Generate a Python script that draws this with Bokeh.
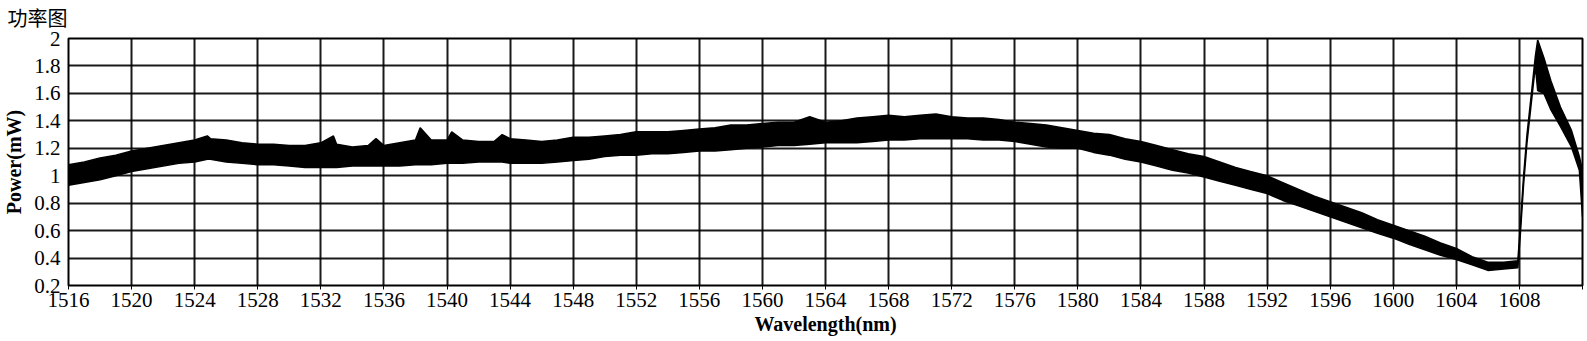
from bokeh.plotting import figure
from bokeh.models import Range1d, FixedTicker
from bokeh.embed import file_html
from bokeh.resources import INLINE

# Wavelength (nm) and the upper / lower envelope of the noisy power trace (mW)
wavelength = [1516, 1517, 1518, 1519, 1520, 1521, 1522, 1523, 1524, 1524.8, 1525, 1526, 1527, 1528,
              1529, 1530, 1531, 1532, 1532.8, 1533, 1534, 1535, 1535.5, 1536, 1537, 1538, 1538.3,
              1539, 1540, 1540.3, 1541, 1542, 1543, 1543.5, 1544, 1545, 1546, 1547, 1548, 1549,
              1550, 1551, 1552, 1553, 1554, 1555, 1556, 1557, 1558, 1559, 1560, 1561, 1562, 1563,
              1564, 1565, 1566, 1567, 1568, 1569, 1570, 1571, 1572, 1573, 1574, 1575, 1576, 1577,
              1578, 1579, 1580, 1581, 1582, 1583, 1584, 1585, 1586, 1587, 1588, 1589, 1590, 1591,
              1592, 1593, 1594, 1595, 1596, 1597, 1598, 1599, 1600, 1601, 1602, 1603, 1604, 1605,
              1606, 1607, 1607.9, 1608.05, 1608.26, 1608.48, 1608.8, 1609.01, 1609.16, 1609.55,
              1610.0, 1610.6, 1611.3, 1611.8, 1612.0]
power_upper = [1.08, 1.10, 1.13, 1.15, 1.18, 1.20, 1.22, 1.24, 1.26, 1.29, 1.27, 1.26, 1.24, 1.23,
               1.23, 1.22, 1.22, 1.24, 1.29, 1.23, 1.21, 1.22, 1.27, 1.22, 1.24, 1.26, 1.35,
               1.26, 1.26, 1.32, 1.26, 1.25, 1.25, 1.30, 1.27, 1.26, 1.25, 1.26, 1.28, 1.28,
               1.29, 1.30, 1.32, 1.32, 1.32, 1.33, 1.34, 1.35, 1.37, 1.37, 1.38, 1.39, 1.39, 1.43,
               1.39, 1.40, 1.42, 1.43, 1.44, 1.43, 1.44, 1.45, 1.43, 1.42, 1.42, 1.41, 1.39, 1.38,
               1.37, 1.35, 1.33, 1.31, 1.30, 1.27, 1.25, 1.22, 1.19, 1.16, 1.14, 1.10, 1.06, 1.03,
               1.00, 0.95, 0.90, 0.85, 0.81, 0.77, 0.73, 0.68, 0.64, 0.60, 0.56, 0.51, 0.47, 0.41,
               0.37, 0.37, 0.38, 0.62, 0.99, 1.30, 1.64, 1.87, 1.99, 1.86,
               1.69, 1.50, 1.33, 1.14, 1.04]
power_lower = [0.93, 0.95, 0.97, 1.00, 1.03, 1.05, 1.07, 1.09, 1.10, 1.12, 1.12, 1.10, 1.09, 1.08,
               1.08, 1.07, 1.06, 1.06, 1.06, 1.06, 1.07, 1.07, 1.07, 1.07, 1.07, 1.08, 1.08,
               1.08, 1.09, 1.09, 1.09, 1.10, 1.10, 1.10, 1.09, 1.09, 1.09, 1.10, 1.11, 1.12,
               1.14, 1.15, 1.15, 1.16, 1.16, 1.17, 1.18, 1.18, 1.19, 1.20, 1.21, 1.22, 1.22, 1.23,
               1.24, 1.24, 1.24, 1.25, 1.26, 1.26, 1.27, 1.27, 1.27, 1.27, 1.26, 1.26, 1.25, 1.23,
               1.21, 1.20, 1.20, 1.17, 1.15, 1.12, 1.10, 1.07, 1.04, 1.02, 0.99, 0.96, 0.93, 0.90,
               0.87, 0.82, 0.78, 0.74, 0.70, 0.66, 0.62, 0.58, 0.545, 0.50, 0.46, 0.42, 0.39, 0.35,
               0.31, 0.32, 0.33, 0.56, 0.93, 1.24, 1.58, 1.80, 1.62, 1.60,
               1.48, 1.36, 1.21, 1.04, 0.70]

x_ticks = [1516, 1520, 1524, 1528, 1532, 1536, 1540, 1544, 1548, 1552, 1556, 1560, 1564, 1568,
           1572, 1576, 1580, 1584, 1588, 1592, 1596, 1600, 1604, 1608, 1612]
x_tick_labels = ["1516", "1520", "1524", "1528", "1532", "1536", "1540", "1544", "1548", "1552",
                 "1556", "1560", "1564", "1568", "1572", "1576", "1580", "1584", "1588", "1592",
                 "1596", "1600", "1604", "1608", ""]
y_ticks = [0.2, 0.4, 0.6, 0.8, 1.0, 1.2, 1.4, 1.6, 1.8, 2.0]
y_tick_labels = ["0.2", "0.4", "0.6", "0.8", "1", "1.2", "1.4", "1.6", "1.8", "2"]

SERIF = "Liberation Serif"

p = figure(width=1587, height=341, output_backend="svg", toolbar_location=None,
           x_range=Range1d(1516, 1612), y_range=Range1d(0.2, 2.0),
           min_border_left=68, min_border_right=5, min_border_top=38, min_border_bottom=56,
           title="功率图")

p.title.text_font = "Liberation Serif, Noto Sans CJK SC"
p.title.text_font_size = "20px"
p.title.text_font_style = "normal"
p.title.text_color = "black"
p.title.align = "left"
p.title.vertical_align = "top"
p.title.offset = -61
p.title.standoff = 13

p.outline_line_color = "black"
p.outline_line_width = 2
p.outline_line_alpha = 1

p.xaxis.ticker = FixedTicker(ticks=x_ticks)
p.yaxis.ticker = FixedTicker(ticks=y_ticks)
p.xaxis.major_label_overrides = dict(zip(x_ticks, x_tick_labels))
p.yaxis.major_label_overrides = dict(zip(y_ticks, y_tick_labels))

for ax in (p.xaxis[0], p.yaxis[0]):
    ax.major_label_text_font = SERIF
    ax.major_label_text_font_size = "21px"
    ax.major_label_text_color = "black"
    ax.axis_label_text_font = SERIF
    ax.axis_label_text_font_size = "20px"
    ax.axis_label_text_font_style = "bold"
    ax.axis_label_text_color = "black"
    ax.axis_line_color = None
    ax.minor_tick_line_color = None
    ax.major_tick_line_color = "black"
    ax.major_tick_line_width = 1

p.xaxis.axis_label = "Wavelength(nm)"
p.yaxis.axis_label = "Power(mW)"
p.xaxis.major_tick_out = 4
p.xaxis.major_tick_in = 0
p.xaxis.major_label_standoff = 3
p.xaxis.axis_label_standoff = 3
p.yaxis.major_tick_out = 0
p.yaxis.major_tick_in = 0
p.yaxis.major_label_standoff = 8
p.yaxis.axis_label_standoff = 6

p.xgrid.grid_line_color = "black"
p.ygrid.grid_line_color = "black"
p.xgrid.grid_line_width = 2
p.ygrid.grid_line_width = 2
p.xgrid.grid_line_alpha = 0.9
p.ygrid.grid_line_alpha = 0.9

p.varea(x=wavelength, y1=power_lower, y2=power_upper, fill_color="black")
p.line(wavelength, power_upper, line_color="black", line_width=1.5)
p.line(wavelength, power_lower, line_color="black", line_width=1.5)

open("out.html", "w").write(file_html(p, INLINE))
